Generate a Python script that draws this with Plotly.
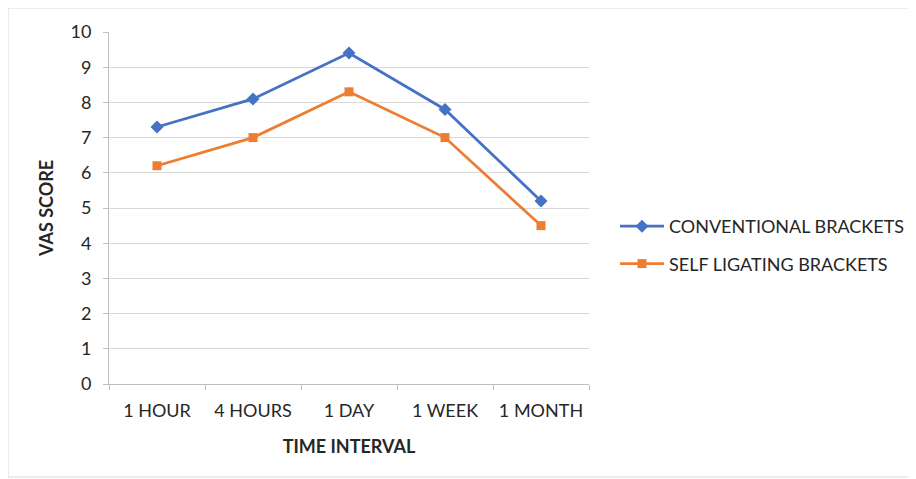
import plotly.graph_objects as go

categories = ["1 HOUR", "4 HOURS", "1 DAY", "1 WEEK", "1 MONTH"]
conventional = [7.3, 8.1, 9.4, 7.8, 5.2]
self_ligating = [6.2, 7.0, 8.3, 7.0, 4.5]
y_ticks = list(range(0, 11))

# page has an 8px body margin; figure sized to fit the window
OFF = 8
W, H = 908, 471
L, R, T, B = 101, 327, 24, 95
pw, ph = W - L - R, H - T - B

def px(x):
    return (x - OFF - L) / pw

def py(y):
    return (H - B - (y - OFF)) / ph

FONT = "Lato, Open Sans, sans-serif"
TXT = "#262626"

fig = go.Figure()
fig.add_trace(go.Scatter(
    x=categories, y=conventional, name="CONVENTIONAL BRACKETS", mode="lines+markers",
    line=dict(color="#4472C4", width=2.75), marker=dict(symbol="diamond", size=10, color="#4472C4"),
    legendgroup="a"))
fig.add_trace(go.Scatter(
    x=categories, y=self_ligating, name="SELF LIGATING BRACKETS", mode="lines+markers",
    line=dict(color="#ED7D31", width=2.75), marker=dict(symbol="square", size=9, color="#ED7D31"),
    legendgroup="b"))

fig.update_layout(
    width=W, height=H,
    margin=dict(l=L, r=R, t=T, b=B, autoexpand=False),
    paper_bgcolor="white", plot_bgcolor="white",
    font=dict(family=FONT, size=18, color=TXT),
    showlegend=True,
    legend=dict(x=px(615), y=py(208), xanchor="left", yanchor="top", itemwidth=44,
                font=dict(size=18, color=TXT), tracegroupgap=11, bgcolor="rgba(0,0,0,0)"),
    xaxis=dict(type="category", range=[-0.5, len(categories) - 0.5], tickson="boundaries",
               ticks="outside", ticklen=5, ticklabelstandoff=10,
               tickcolor="#bfbfbf", showline=True, linecolor="#bfbfbf", linewidth=1,
               showgrid=False, zeroline=False, tickfont=dict(size=18, color=TXT),
               title=dict(text="<b>TIME INTERVAL</b>", font=dict(size=18, color=TXT), standoff=20)),
    yaxis=dict(range=[0, 10], tickvals=y_ticks, ticks="outside", ticklen=5, tickcolor="#bfbfbf",
               ticklabelstandoff=8,
               showline=True, linecolor="#bfbfbf", linewidth=1,
               showgrid=True, gridcolor="#d9d9d9", gridwidth=1, zeroline=False,
               tickfont=dict(size=18, color=TXT),
               title=dict(text="<b>VAS SCORE</b>", font=dict(size=18, color=TXT), standoff=12)),
)

fig.add_shape(type="rect", xref="paper", yref="paper",
              x0=px(8), x1=px(915), y0=py(477), y1=py(8),
              line=dict(color="#d9d9d9", width=1), fillcolor="rgba(0,0,0,0)", layer="below")

fig.write_html("out.html")
